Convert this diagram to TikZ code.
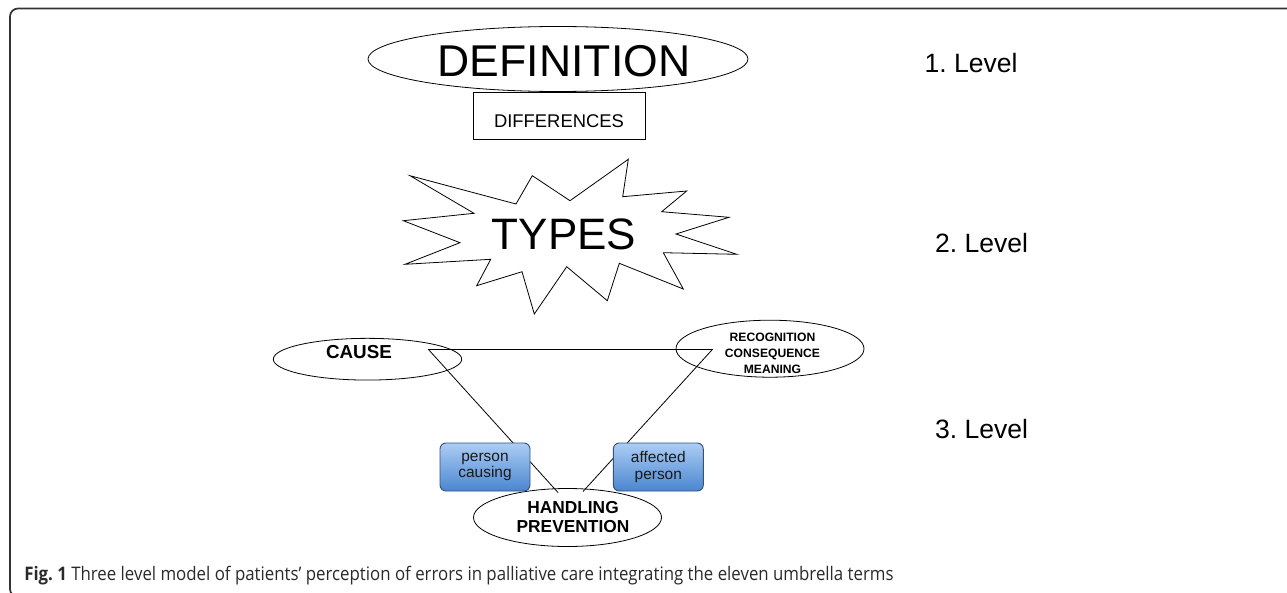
\documentclass[tikz,border=0pt]{standalone}
\usepackage{fontspec}
\setmainfont{Liberation Sans}
\newfontfamily\capfont{Open Sans}
\usetikzlibrary{shapes.geometric}
\frenchspacing
\definecolor{frame}{HTML}{333333}
\definecolor{boxtop}{RGB}{172,205,245}
\definecolor{boxbot}{RGB}{74,134,207}
\definecolor{boxline}{RGB}{52,82,122}
\definecolor{captxt}{HTML}{2A2A2A}
\tikzset{
  thinline/.style={draw=black, line width=0.6pt},
  oval/.style={ellipse, draw=black, line width=0.6pt, inner sep=0pt, outer sep=0pt},
  bluebox/.style={rectangle, rounded corners=4.5pt, draw=boxline, line width=0.7pt,
     top color=boxtop, bottom color=boxbot, minimum width=67.5pt, minimum height=36pt,
     inner sep=0pt, align=center, font=\fontsize{11.6pt}{12.6pt}\selectfont, text=black!90},
  leveltxt/.style={font=\fontsize{19.9pt}{24pt}\selectfont, inner sep=0pt},
  boldtxt/.style={font=\bfseries, inner sep=0pt, align=center}
}
\begin{document}
\begin{tikzpicture}[x=0.75pt,y=-0.75pt]
\useasboundingbox (0,0) rectangle (1287,592);
\begin{scope}
\clip (0,0) rectangle (1287,592);
\draw[frame, line width=1.3pt, rounded corners=6pt] (1295,8.5) -- (10,8.5) -- (10,597) -- (40,597);
\end{scope}

% Level 1
\node[rectangle, draw=black, line width=0.6pt, minimum width=129pt, minimum height=35.25pt, inner sep=0pt] (diff) at (559,115.5) {};
\node[inner sep=0pt, font=\fontsize{13.8pt}{16pt}\selectfont] (difftxt) at (559,121) {DIFFERENCES};
\node[oval, fill=white, minimum width=285pt, minimum height=48.75pt] (def) at (558,59) {};
\node[inner sep=0pt, font=\fontsize{33.4pt}{40pt}\selectfont] (deftxt) at (564,61) {DEFINITION};

% Level 2 starburst
\draw[line width=0.6pt, line join=miter]
 (410,175.7) -- (516,204) -- (532.3,175.7) -- (570,200.7) -- (628.3,159.3) -- (622.7,196.7)
 -- (686.7,191) -- (661.7,211.7) -- (729,217.3) -- (676,234) -- (736.7,254.3) -- (663.3,252.7)
 -- (683.3,289) -- (619.3,263.3) -- (607.3,300.7) -- (566.7,266.7) -- (534.3,314) -- (522,271.7)
 -- (476.7,285.7) -- (490.7,259.3) -- (405,264.3) -- (460,242.7) -- (403.3,220.7) -- (474,213.3) -- cycle;
\node[inner sep=0pt, font=\fontsize{33pt}{40pt}\selectfont] (types) at (564,234) {TYPES};

% Level 3
\coordinate (tl) at (428.3,349.3);
\coordinate (tr) at (712.5,349.3);
\coordinate (bl) at (558,492.5);
\coordinate (br) at (583,491.5);
\draw[thinline] (tl) -- (tr);
\draw[thinline] (tl) -- (bl);
\draw[thinline] (tr) -- (br);

\node[oval, minimum width=141.3pt, minimum height=31.3pt] (cause) at (367.5,359.2) {};
\node[boldtxt, font=\bfseries\fontsize{14.1pt}{17pt}\selectfont] (causetxt) at (359,352.5) {CAUSE};

\node[oval, minimum width=141pt, minimum height=42.75pt] (rec) at (770,348.7) {};
\node[boldtxt, font=\bfseries\fontsize{9.1pt}{12pt}\selectfont] (rectxt) at (772.5,353) {RECOGNITION\\CONSEQUENCE\\MEANING};

\node[oval, minimum width=141pt, minimum height=43.5pt] (hand) at (567.5,517.5) {};
\node[boldtxt, font=\bfseries\fontsize{13pt}{14.3pt}\selectfont] (handtxt) at (573,517) {HANDLING\\PREVENTION};

\node[bluebox] (pc) at (485,467) {person\\causing};
\node[bluebox] (ap) at (658.3,467) {affected\\person};

% Level labels
\node[leveltxt] (l1) at (971,63.5) {1. Level};
\node[leveltxt] (l2) at (981.5,243) {2. Level};
\node[leveltxt] (l3) at (981.5,429.5) {3. Level};

% Caption
\node[anchor=base west, inner sep=0pt, text=captxt] (cap) at (24,580)
 {\resizebox{652pt}{\height}{\capfont\fontsize{14pt}{16pt}\selectfont\textbf{Fig. 1} Three level model of patients’ perception of errors in palliative care integrating the eleven umbrella terms}};
\end{tikzpicture}
\end{document}
